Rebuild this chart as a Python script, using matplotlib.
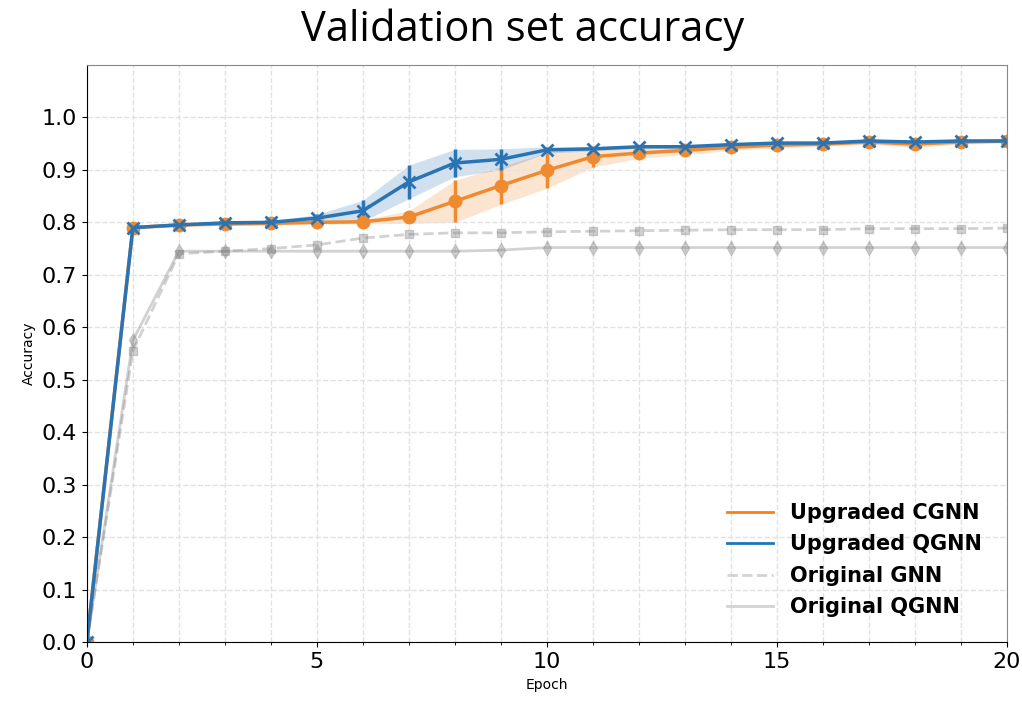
import matplotlib.pyplot as plt
import numpy as np

epochs = np.arange(0, 21)

# mean / std over runs
cgnn_mean = [0.0, 0.790, 0.795, 0.797, 0.798, 0.800, 0.801, 0.810, 0.840, 0.870,
             0.899, 0.925, 0.932, 0.937, 0.943, 0.947, 0.949, 0.953, 0.949, 0.953, 0.955]
cgnn_std = [0.0, 0.003, 0.003, 0.003, 0.003, 0.003, 0.004, 0.012, 0.040, 0.036,
            0.034, 0.020, 0.010, 0.008, 0.006, 0.005, 0.004, 0.004, 0.006, 0.004, 0.004]

qgnn_mean = [0.0, 0.790, 0.795, 0.799, 0.800, 0.808, 0.822, 0.877, 0.913, 0.920,
             0.938, 0.940, 0.944, 0.944, 0.948, 0.951, 0.951, 0.955, 0.953, 0.955, 0.955]
qgnn_std = [0.0, 0.002, 0.002, 0.002, 0.002, 0.007, 0.020, 0.032, 0.026, 0.020,
            0.006, 0.004, 0.003, 0.003, 0.003, 0.003, 0.003, 0.003, 0.003, 0.003, 0.003]

gnn_orig = [0.0, 0.555, 0.740, 0.745, 0.750, 0.757, 0.770, 0.777, 0.780, 0.780,
            0.782, 0.783, 0.784, 0.785, 0.786, 0.786, 0.786, 0.788, 0.788, 0.788, 0.789]
qgnn_orig = [0.0, 0.575, 0.745, 0.745, 0.745, 0.745, 0.745, 0.745, 0.745, 0.747,
             0.752, 0.752, 0.752, 0.752, 0.752, 0.752, 0.752, 0.752, 0.752, 0.752, 0.752]

orange = "#f08a30"
blue = "#2a74b4"

fig = plt.figure(figsize=(10.22, 7.05), dpi=100)
ax = fig.add_axes([0.085, 0.089, 0.900, 0.819])

# original models, faint gray
ax.plot(epochs, gnn_orig, "--s", color="gray", alpha=0.35, lw=2, ms=6,
        label="Original GNN")
ax.plot(epochs, qgnn_orig, "-d", color="gray", alpha=0.35, lw=2, ms=7,
        label="Original QGNN")

# upgraded models with std bands
cm, cs = np.array(cgnn_mean), np.array(cgnn_std)
qm, qs = np.array(qgnn_mean), np.array(qgnn_std)
ax.fill_between(epochs, cm - cs, cm + cs, color=orange, alpha=0.22, lw=0)
ax.fill_between(epochs, qm - qs, qm + qs, color=blue, alpha=0.22, lw=0)
ax.errorbar(epochs, cm, yerr=cs, fmt="-o", color=orange, lw=2.5, ms=9,
            elinewidth=2.5, capsize=0)
ax.errorbar(epochs, qm, yerr=qs, fmt="-x", color=blue, lw=2.5, ms=9, mew=2,
            elinewidth=2.5, capsize=0)

ax.set_xlim(0, 20)
ax.set_ylim(0, 1.1)
ax.set_xticks([0, 5, 10, 15, 20])
ax.set_xticks(np.arange(0, 21), minor=True)
ax.set_yticks(np.arange(0, 1.01, 0.1))
ax.tick_params(axis="both", labelsize=16)
ax.grid(True, which="both", axis="x", ls="--", color="#e2e2e2", lw=1)
ax.grid(True, which="major", axis="y", ls="--", color="#e2e2e2", lw=1)
for s in ["top", "right"]:
    ax.spines[s].set_color("#888888")
ax.set_xlabel("Epoch", fontsize=10)
ax.set_ylabel("Accuracy", fontsize=10)

# legend: plain line handles
handles = [
    plt.Line2D([], [], color="#ff7f0e", lw=2),
    plt.Line2D([], [], color="#1f77b4", lw=2),
    plt.Line2D([], [], color="lightgray", lw=2, ls="--"),
    plt.Line2D([], [], color="lightgray", lw=2),
]
labels = ["Upgraded CGNN", "Upgraded QGNN", "Original GNN", "Original QGNN"]
ax.legend(handles, labels, loc="lower right", frameon=False,
          prop={"weight": "bold", "size": 15}, handlelength=2.2,
          labelspacing=0.55, borderaxespad=0.8)

fig.text(0.511, 0.958, "Validation set accuracy", ha="center", va="center",
         fontsize=30, family="Open Sans")

fig.savefig("out.png", dpi=100)
